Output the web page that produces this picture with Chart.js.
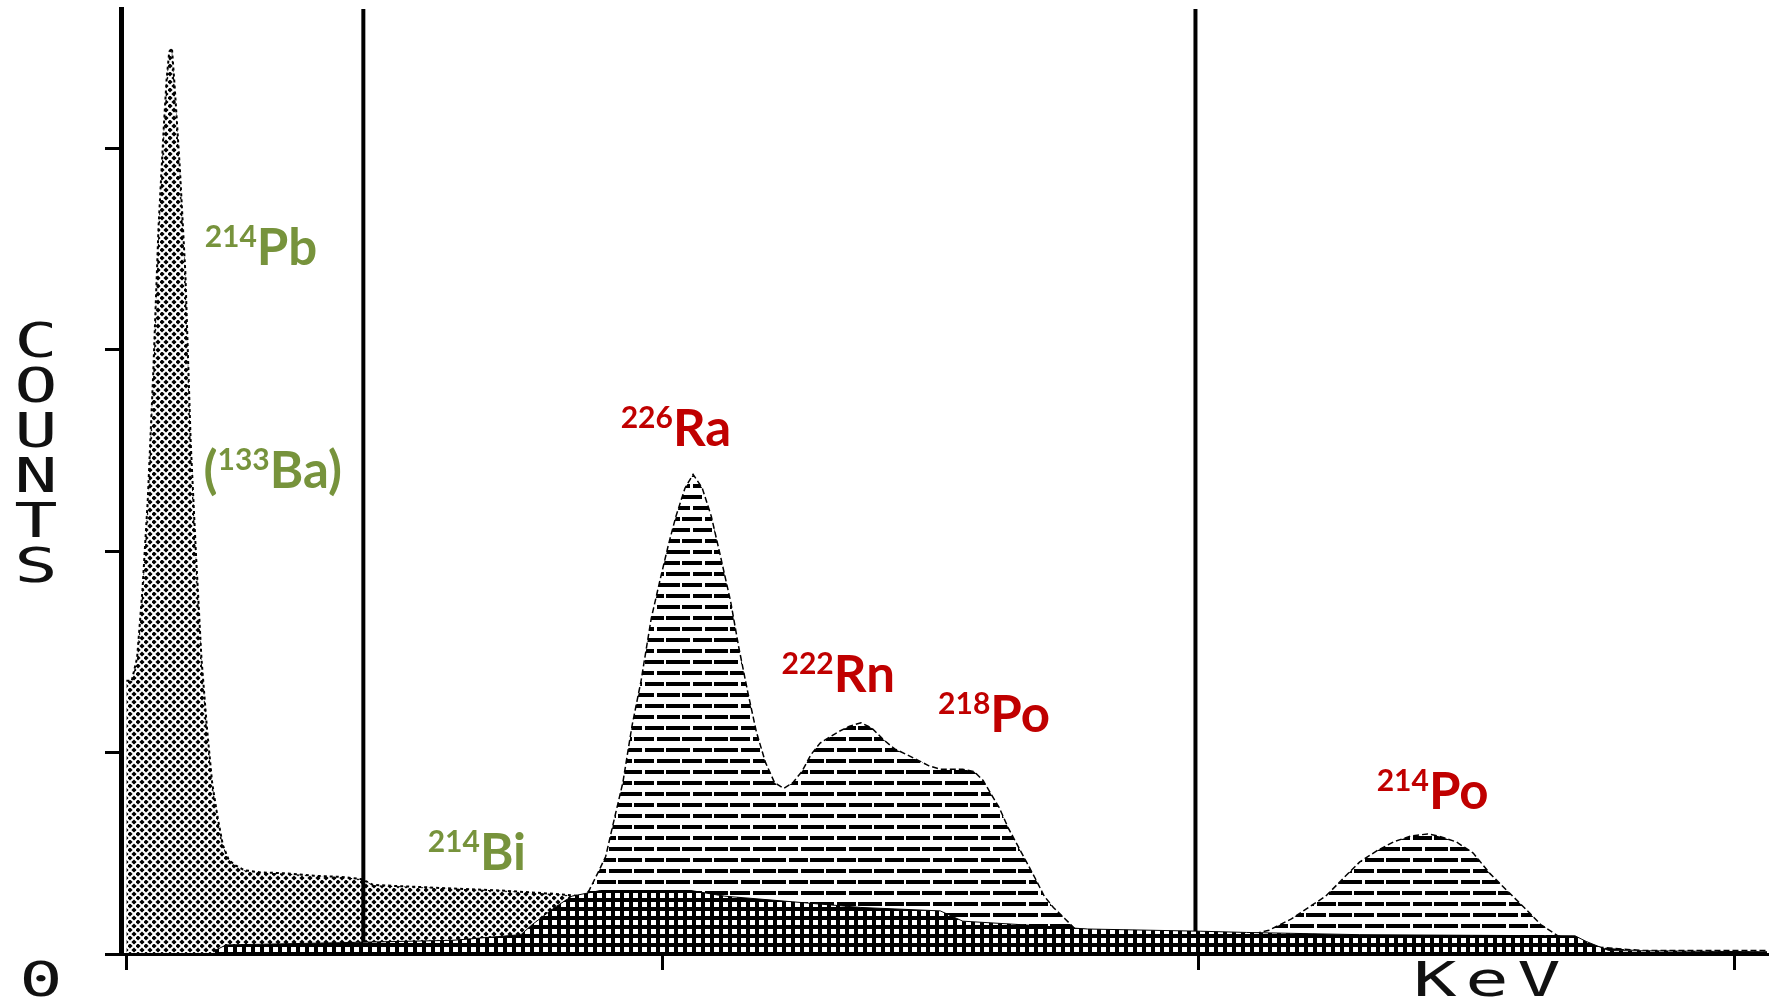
<!DOCTYPE html>
<html>
<head>
<meta charset="utf-8">
<script src="https://cdn.jsdelivr.net/npm/chart.js@4.4.1/dist/chart.umd.min.js"></script>
<style>
  html, body { margin: 0; padding: 0; background: #fff; }
  canvas { display: block; }
</style>
</head>
<body>
<canvas id="spectrum" width="1776" height="1007"></canvas>
<script>
// tick positions (no labels are printed on the original)
const xTicks = [0, 100, 200, 300];
const yTicks = [0, 1000, 2000, 3000, 4000];

// 214Pb (133Ba) peak and the low plateau, dotted fill
const pbChannel = [0, 1, 2, 3, 4, 5, 6, 7, 7.5, 8, 8.5, 9, 10, 11, 12, 13, 14, 15, 16, 17, 18, 19, 20, 22, 25, 30, 35, 40, 44, 46, 50, 60, 70, 80, 85, 88, 90];
const pbCounts = [1356, 1356, 1469, 1806, 2256, 2875, 3607, 4113, 4338, 4479, 4496, 4310, 3888, 3382, 2538, 1975, 1469, 1131, 850, 681, 540, 473, 445, 416, 405, 400, 388, 383, 371, 343, 338, 326, 315, 298, 287, 231, 0];

// alpha peaks: 226Ra, 222Rn, 218Po, 214Po, striped fill
const alphaChannel = [72, 75.7, 82, 86.3, 87.9, 89.4, 91.1, 92.6, 94.3, 96, 97.9, 99.6, 101.1, 102.5, 104.2, 105.7, 107.4, 109.1, 110.8, 112.7, 114.2, 115.9, 117.5, 119.2, 120.9, 122.6, 124.3, 126, 127.7, 129.4, 131.1, 132.8, 134.9, 137, 139.1, 141.2, 143.3, 145.5, 147.6, 149.7, 151.8, 156, 158.1, 159.8, 161.3, 162.8, 164.5, 166.2, 167.9, 169.6, 171.2, 172.9, 175.1, 177.2, 179.3, 187.7, 200, 204.7, 208.9, 213.1, 217.3, 220.5, 223.7, 226.8, 230, 233.2, 236.4, 239.5, 242.7, 244.8, 248, 251.2, 254.3, 257.5, 260.7, 263.8, 267, 270.2, 274.4, 282.9, 299.8, 306];
const alphaCounts = [0, 90, 174, 315, 400, 484, 681, 850, 1131, 1356, 1666, 1863, 2031, 2172, 2313, 2380, 2313, 2172, 1975, 1750, 1525, 1300, 1103, 951, 850, 822, 850, 906, 990, 1047, 1075, 1103, 1131, 1148, 1120, 1064, 1018, 990, 962, 934, 917, 917, 906, 861, 793, 726, 625, 540, 456, 371, 287, 231, 174, 118, 90, 73, 62, 62, 90, 118, 174, 231, 287, 371, 456, 512, 557, 585, 596, 585, 557, 501, 400, 315, 231, 146, 90, 62, 34, 17, 17, 17];

// dense background continuum along the bottom
const bgChannel = [16.5, 18.6, 39.7, 60.9, 73.6, 75.7, 79.9, 83.1, 88.4, 105.3, 111.6, 124.3, 137, 151.8, 156, 166.6, 179.3, 200.4, 208.9, 230, 270.2, 272.3, 276.5, 306];
const bgCounts = [17, 45, 56, 68, 96, 146, 231, 287, 315, 315, 287, 259, 231, 214, 163, 146, 124, 113, 107, 96, 90, 62, 17, 11];

// energy window markers
const windowChannels = [44.2, 199.4];

// peak labels
const labelMass = ['214', '133', '214', '226', '222', '218', '214'];
const labelSymbol = ['Pb', 'Ba', 'Bi', 'Ra', 'Rn', 'Po', 'Po'];
const labelChannel = [14.6, 14.4, 56.2, 92.2, 122.2, 151.4, 233.2];
const labelCounts = [3421, 2313, 416, 2521, 1300, 1103, 720];

const yMax = 4690;
const green = '#77933C';
const red = '#C00000';

function makePattern(w, h, draw) {
  const c = document.createElement('canvas');
  c.width = w; c.height = h;
  const g = c.getContext('2d');
  draw(g);
  return g.createPattern(c, 'repeat');
}

const dots = makePattern(8, 8, g => {
  g.fillStyle = '#000';
  const diamond = (cx, cy) => {
    g.beginPath();
    g.moveTo(cx, cy - 2.6); g.lineTo(cx + 2.6, cy); g.lineTo(cx, cy + 2.6); g.lineTo(cx - 2.6, cy);
    g.closePath(); g.fill();
  };
  diamond(2, 2); diamond(6, 6);
  diamond(10, -2); diamond(-2, 10); diamond(-2, -2); diamond(10, 10);
  diamond(6, -2); diamond(6, 10); diamond(-2, 6); diamond(10, 6);
});

const stripes = makePattern(48, 22, g => {
  g.fillStyle = '#000';
  g.fillRect(0, 0, 48, 4);
  g.fillRect(0, 11, 48, 4);
  g.clearRect(18, 0, 3, 4);
  g.clearRect(40, 0, 2, 4);
  g.clearRect(8, 11, 2, 4);
  g.clearRect(30, 11, 3, 4);
});

const hatch = makePattern(9, 9, g => {
  g.fillStyle = '#000';
  g.fillRect(0, 0, 9, 9);
  g.fillStyle = '#fff';
  g.fillRect(3, 2, 5, 5);
});

const pts = (xs, ys) => xs.map((x, i) => ({ x: x, y: ys[i] }));

const windowSets = windowChannels.map(c => ({
  data: [{ x: c, y: 0 }, { x: c, y: yMax }],
  borderColor: '#000',
  borderWidth: 4,
  pointRadius: 0,
  fill: false
}));

const overlay = {
  id: 'overlay',
  beforeDraw(chart) {
    const ctx = chart.ctx;
    ctx.save();
    ctx.fillStyle = '#fff';
    ctx.fillRect(0, 0, chart.width, chart.height);
    ctx.restore();
  },
  afterDraw(chart) {
    const ctx = chart.ctx;
    const xs = chart.scales.x, ys = chart.scales.y;
    ctx.save();
    ctx.textBaseline = 'alphabetic';
    ctx.textAlign = 'left';
    const mainFont = 'bold 51px Lato';
    const supFont = 'bold 30px Lato';
    for (let i = 0; i < labelMass.length; i++) {
      let px = xs.getPixelForValue(labelChannel[i]);
      const py = ys.getPixelForValue(labelCounts[i]);
      ctx.fillStyle = i < 3 ? green : red;
      const bracket = labelSymbol[i] === 'Ba';
      if (bracket) {
        ctx.font = mainFont;
        ctx.fillText('(', px, py);
        px += ctx.measureText('(').width;
      }
      ctx.font = supFont;
      ctx.fillText(labelMass[i], px, py - 18);
      px += ctx.measureText(labelMass[i]).width;
      ctx.font = mainFont;
      ctx.fillText(labelSymbol[i] + (bracket ? ')' : ''), px, py);
    }

    // plotter style lettering
    ctx.fillStyle = '#111';
    ctx.font = '48px "DejaVu Sans Mono"';
    ctx.textAlign = 'center';
    ctx.textBaseline = 'middle';
    const glyph = (ch, cx, cy) => {
      ctx.save();
      ctx.translate(cx, cy);
      ctx.scale(1.5, 1);
      ctx.fillText(ch, 0, 0);
      ctx.restore();
    };
    'COUNTS'.split('').forEach((ch, i) => glyph(ch, 36, 345 + i * 45));
    glyph('0', 41, 984);
    'KeV'.split('').forEach((ch, i) => glyph(ch, 1435 + i * 52, 984));
    ctx.restore();
  }
};

new Chart(document.getElementById('spectrum'), {
  type: 'line',
  data: {
    datasets: [
      {
        label: 'continuum',
        data: pts(bgChannel, bgCounts),
        backgroundColor: hatch,
        borderColor: '#000',
        borderWidth: 1,
        pointRadius: 0,
        fill: 'origin'
      },
      {
        label: 'alpha',
        data: pts(alphaChannel, alphaCounts),
        backgroundColor: stripes,
        borderColor: '#000',
        borderWidth: 1.5,
        borderDash: [6, 3],
        pointRadius: 0,
        fill: 'origin'
      },
      {
        label: 'Pb',
        data: pts(pbChannel, pbCounts),
        backgroundColor: dots,
        borderColor: '#000',
        borderWidth: 2,
        borderDash: [3, 3],
        pointRadius: 0,
        fill: 'origin'
      },
      ...windowSets
    ]
  },
  options: {
    responsive: false,
    animation: false,
    layout: { padding: { left: 105, right: 9, top: 9, bottom: 37 } },
    plugins: { legend: { display: false }, tooltip: { enabled: false } },
    scales: {
      x: {
        type: 'linear',
        min: -1,
        max: 306,
        afterBuildTicks: s => { s.ticks = xTicks.map(v => ({ value: v })); },
        ticks: { display: false },
        grid: { display: true, drawOnChartArea: false, drawTicks: true, tickLength: 16, color: '#000', lineWidth: 3 },
        border: { display: true, color: '#000', width: 3, dash: [6, 3] }
      },
      y: {
        min: 0,
        max: yMax,
        afterBuildTicks: s => { s.ticks = yTicks.map(v => ({ value: v })); },
        ticks: { display: false },
        grid: { display: true, drawOnChartArea: false, drawTicks: true, tickLength: 16, color: '#000', lineWidth: 3 },
        border: { display: true, color: '#000', width: 5 }
      }
    }
  },
  plugins: [overlay]
});
</script>
</body>
</html>
